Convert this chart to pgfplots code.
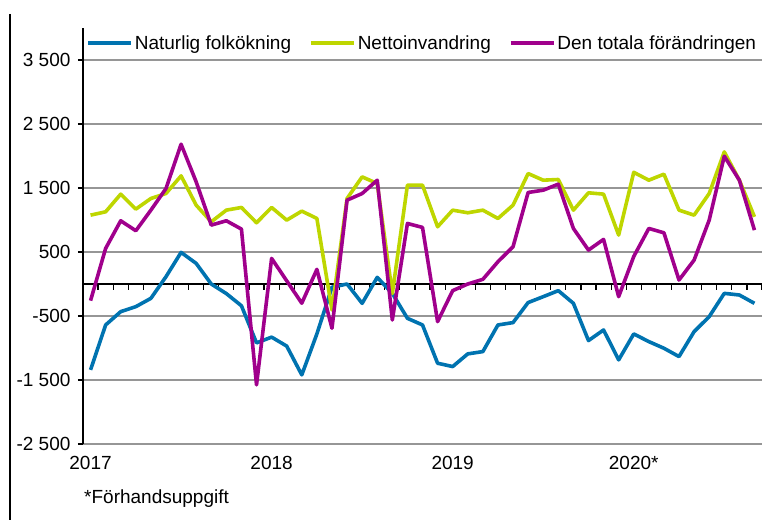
\documentclass[border=0pt]{standalone}
\usepackage{fontspec}
\setmainfont{Liberation Sans}
\usepackage{pgfplots}
\pgfplotsset{compat=1.18}
\definecolor{cblue}{RGB}{0,115,176}
\definecolor{cgreen}{RGB}{190,214,0}
\definecolor{cmag}{RGB}{160,0,140}
\definecolor{cgrid}{RGB}{150,150,150}
\begin{document}
\begin{tikzpicture}[x=1pt,y=1pt]
\useasboundingbox (0,0) rectangle (762,520);
\draw[black,line width=1.5pt] (10,506) -- (10,0);
\begin{axis}[
  at={(83pt,76pt)}, anchor=south west,
  scale only axis, width=679pt, height=416pt,
  xmin=-0.5, xmax=44.5, ymin=-2500, ymax=4000,
  font=\fontsize{19}{23}\selectfont,
  axis y line=left, axis x line*=bottom,
  y axis line style={-, black, line width=1.6pt},
  x axis line style={draw=none},
  xtick={0,12,24,36}, xticklabels={2017,2018,2019,2020*},
  major x tick style={draw=none},
  ytick={-2500,-1500,-500,500,1500,2500,3500},
  yticklabels={-2~500,-1~500,-500,500,1~500,2~500,3~500},
  ymajorgrids, grid style={cgrid, line width=1.2pt},
  tick align=outside, major tick length=5pt,
  major y tick style={black, line width=1.2pt},
  yticklabel style={xshift=-4pt},
  xticklabel style={yshift=-4pt},
  legend columns=3,
  legend style={at={(axis description cs:0.0045,0.964)}, anchor=west, draw=none, fill=none, inner sep=0pt,
    nodes={inner sep=2pt}, /tikz/every even column/.append style={column sep=16pt}},
  legend image code/.code={\draw[#1] (0pt,0pt) -- (43pt,0pt);},
]
\addplot[ycomb, black, line width=1.2pt, mark=none, forget plot] table {
x y
-0.5 -90
0.5 -90
1.5 -90
2.5 -90
3.5 -90
4.5 -90
5.5 -90
6.5 -90
7.5 -90
8.5 -90
9.5 -90
10.5 -90
11.5 -90
12.5 -90
13.5 -90
14.5 -90
15.5 -90
16.5 -90
17.5 -90
18.5 -90
19.5 -90
20.5 -90
21.5 -90
22.5 -90
23.5 -90
24.5 -90
25.5 -90
26.5 -90
27.5 -90
28.5 -90
29.5 -90
30.5 -90
31.5 -90
32.5 -90
33.5 -90
34.5 -90
35.5 -90
36.5 -90
37.5 -90
38.5 -90
39.5 -90
40.5 -90
41.5 -90
42.5 -90
43.5 -90
44.5 -90
};
\addplot[black, line width=1.6pt, mark=none, forget plot] coordinates {(-0.5,0) (44.5,0)};
\addplot[cblue, line width=3.6pt, line join=round, mark=none] table {
x y
0 -1342
1 -640
2 -432
3 -354
4 -224
5 114
6 494
7 322
8 0
9 -150
10 -340
11 -920
12 -830
13 -970
14 -1420
15 -780
16 -50
17 0
18 -302
19 104
20 -146
21 -536
22 -640
23 -1238
24 -1290
25 -1092
26 -1056
27 -640
28 -603
29 -290
30 -198
31 -104
32 -302
33 -884
34 -718
35 -1186
36 -780
37 -900
38 -1004
39 -1134
40 -744
41 -510
42 -146
43 -172
44 -302
};
\addlegendentry{Naturlig folkökning}
\addplot[cgreen, line width=3.6pt, line join=round, mark=none] table {
x y
0 1076
1 1128
2 1404
3 1170
4 1336
5 1414
6 1690
7 1232
8 972
9 1154
10 1196
11 957
12 1196
13 998
14 1139
15 1024
16 -406
17 1336
18 1674
19 1570
20 -150
21 1544
22 1544
23 894
24 1154
25 1113
26 1154
27 1024
28 1232
29 1726
30 1622
31 1633
32 1154
33 1425
34 1404
35 764
36 1745
37 1622
38 1716
39 1154
40 1076
41 1414
42 2064
43 1622
44 1050
};
\addlegendentry{Nettoinvandring}
\addplot[cmag, line width=3.6pt, line join=round, mark=none] table {
x y
0 -260
1 556
2 988
3 832
4 1154
5 1492
6 2184
7 1596
8 920
9 988
10 858
11 -1576
12 400
13 50
14 -300
15 229
16 -692
17 1310
18 1414
19 1622
20 -562
21 946
22 884
23 -588
24 -104
25 0
26 73
27 348
28 582
29 1430
30 1466
31 1560
32 868
33 530
34 697
35 -198
36 430
37 868
38 800
39 62
40 374
41 998
42 1997
43 1622
44 842
};
\addlegendentry{Den totala förändringen}
\end{axis}
\node[anchor=base west, font=\fontsize{19}{23}\selectfont, inner sep=0pt] at (84,17) {*Förhandsuppgift};
\end{tikzpicture}
\end{document}
